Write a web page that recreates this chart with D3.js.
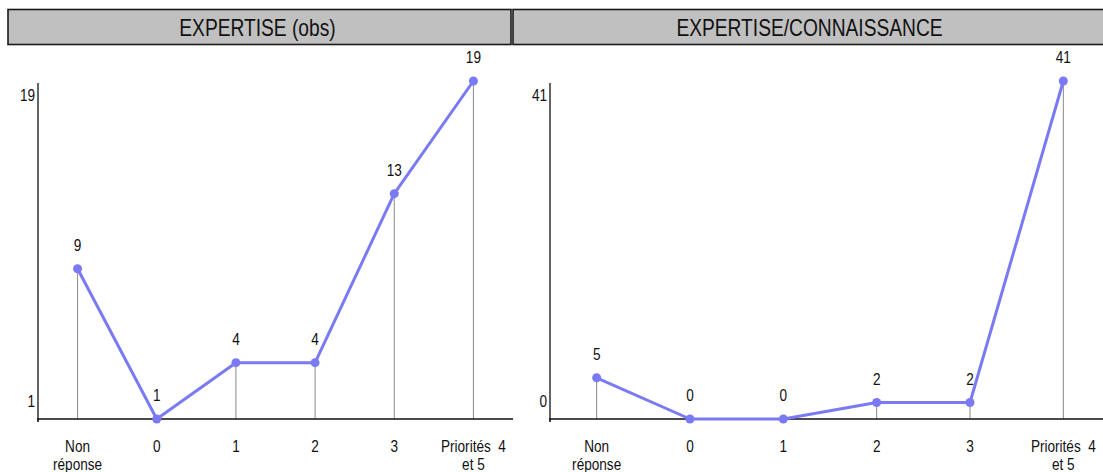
<!DOCTYPE html>
<html><head><meta charset="utf-8">
<script src="https://cdn.jsdelivr.net/npm/d3@7"></script>
<style>
body{margin:0;background:#fff;}
text{font-family:"Liberation Sans",Arial,sans-serif;fill:#111;white-space:pre;}
</style></head>
<body><svg id="c" width="1103" height="472"></svg>
<script>
const categories = ["Non|réponse", "0", "1", "2", "3", "Priorités  4|et 5"];
const titleLeft = "EXPERTISE (obs)";
const valuesLeft = [9, 1, 4, 4, 13, 19];
const yTicksLeft = [1, 19];
const titleRight = "EXPERTISE/CONNAISSANCE";
const valuesRight = [5, 0, 0, 2, 2, 41];
const yTicksRight = [0, 41];

const svg = d3.select("#c");
const lineColor = "#7a7af4";
const SX = 0.8; // horizontal condensing (narrow font look)

function ctext(g, x, y, lines, size, anchor, lh){
  const t = g.append("text").attr("transform", `translate(${x},${y}) scale(${SX},1)`)
    .attr("text-anchor", anchor).attr("font-size", size);
  lines.forEach((p, i) => t.append("tspan").attr("x", 0).attr("dy", i ? lh : 0).text(p));
  return t;
}

function panel(o){
  const g = svg.append("g");
  // title box
  g.append("rect").attr("x", o.bx0).attr("y", 9.5).attr("width", o.bx1 - o.bx0).attr("height", 35)
    .attr("fill", "#c0c0c0").attr("stroke", "#1a1a1a").attr("stroke-width", 1.6);
  ctext(g, (o.bx0 + o.bx1) / 2 - 2, 35.5, [o.title], 24, "middle");

  const x = d3.scalePoint().domain(categories).range(o.xr).padding(0.5);
  const y = d3.scaleLinear().domain(o.yd).range([419, 81]);
  const data = categories.map((c, i) => ({c, v: o.values[i]}));

  // drop lines
  g.selectAll(".drop").data(data).enter().append("line")
    .attr("x1", d => x(d.c)).attr("x2", d => x(d.c))
    .attr("y1", d => y(d.v)).attr("y2", 419)
    .attr("stroke", "#8a8a8a").attr("stroke-width", 1);

  // y axis
  const ya = d3.axisLeft(y).tickValues(o.yticks).tickSize(0).tickFormat(() => "");
  const yg = g.append("g").attr("transform", `translate(${o.xr[0]},0)`).call(ya);
  yg.select(".domain").attr("stroke", "#111").attr("stroke-width", 1.3).attr("d", `M0,83V419`);
  o.yticks.forEach(v => {
    const yy = v === o.yd[1] ? y(v) + 20 : y(v) - 12;
    ctext(g, o.xr[0] - 3, yy, [d3.format("d")(v)], 17, "end");
  });

  // x axis
  const xa = d3.axisBottom(x).tickSize(0).tickFormat("");
  const xg = g.append("g").attr("transform", "translate(0,419)").call(xa);
  xg.select(".domain").attr("stroke", "#111").attr("stroke-width", 1.6)
    .attr("d", `M${o.xr[0]-1},0H${o.xend}M${o.xr[0]},0V3`);

  // category labels
  data.forEach(d => ctext(g, x(d.c), 452, d.c.split("|"), 17, "middle", 18));

  // line
  const line = d3.line().x(d => x(d.c)).y(d => y(d.v));
  g.append("path").datum(data).attr("d", line).attr("fill", "none")
    .attr("stroke", lineColor).attr("stroke-width", 3).attr("stroke-linejoin", "round");
  g.selectAll(".pt").data(data).enter().append("circle")
    .attr("cx", d => x(d.c)).attr("cy", d => y(d.v)).attr("r", 4.5).attr("fill", lineColor);

  // value labels
  data.forEach(d => ctext(g, x(d.c), y(d.v) - 18, [String(d.v)], 17, "middle"));
}

panel({title: titleLeft, values: valuesLeft, yd: [1, 19], yticks: yTicksLeft,
  xr: [38, 513], xend: 513, bx0: 8, bx1: 511});
panel({title: titleRight, values: valuesRight, yd: [0, 41], yticks: yTicksRight,
  xr: [550, 1110], xend: 1103, bx0: 513, bx1: 1110});
</script></body></html>
